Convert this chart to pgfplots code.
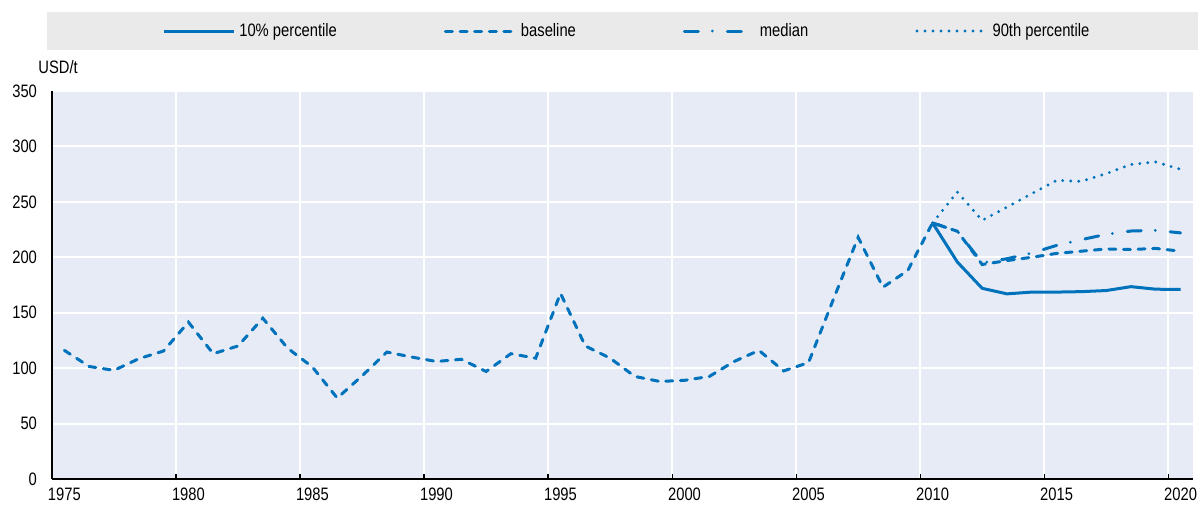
\documentclass[border=0pt]{standalone}
\usepackage{fontspec}
\setmainfont{Liberation Sans}[FakeStretch=0.82]
\usepackage{pgfplots}
\pgfplotsset{compat=1.18}
\definecolor{oblue}{HTML}{0072BC}
\definecolor{plotbg}{HTML}{E6EBF6}
\definecolor{leggray}{HTML}{EAEAEA}

\begin{document}
\begin{tikzpicture}[font=\fontsize{9}{10}\selectfont]
\useasboundingbox (-26pt,-14pt) rectangle (573pt,239.5pt);
\fill[leggray] (-2.5pt,214.5pt) rectangle (573pt,233.5pt);
\begin{axis}[
    at={(0pt,0pt)}, anchor=south west,
    scale only axis,
    width=570.5pt, height=194pt,
    xmin=1975, xmax=2021,
    ymin=0, ymax=350,
    xtick={1975,1980,...,2020},
    ytick={0,50,...,350},
    axis lines=left,
    axis line style={-, black, line width=1pt},
    axis background/.style={fill=plotbg},
    grid=major,
    major grid style={white, line width=1pt},
    tick align=inside,
    major tick length=2.5pt,
    xtick style={black, line width=0.6pt},
    ytick style={draw=none},
    xticklabel style={xshift=6.2pt, yshift=-1pt},
    yticklabel style={xshift=-4pt},
    /pgf/number format/assume math mode=true,
    /pgf/number format/1000 sep={},
    tick label style={font=\fontsize{9}{10}\selectfont},
    legend columns=4,
    legend style={at={(rel axis cs:0.5047,1.1546)}, anchor=center,
        draw=none, fill=none, font=\fontsize{9}{10}\selectfont,
        /tikz/every even column/.append style={column sep=51.5pt}},
    legend image code/.code={\draw[#1] (0pt,0pt) -- (35pt,0pt);},
    every axis plot/.append style={oblue, line width=1.5pt},
]
\addplot[oblue, solid, line join=round] coordinates {
(2010.5,231) (2011.5,195.7) (2012.5,172) (2013.5,167) (2014.5,168.6)
(2015.5,168.6) (2016.5,169) (2017.5,170) (2018.5,173.5) (2019.5,171.2) (2020.5,171)
};
\addlegendentry{10\% percentile}
\addplot[oblue, dash pattern=on 3.5pt off 3.8pt, line cap=round] coordinates {
(1975.5,116) (1976.5,101.5) (1977.5,98) (1978.5,108.5) (1979.5,115.5)
(1980.5,141.5) (1981.5,113) (1982.5,120) (1983.5,145) (1984.5,118)
(1985.5,101) (1986.5,73) (1987.5,93) (1988.5,114.5) (1989.5,110)
(1990.5,106) (1991.5,108) (1992.5,97) (1993.5,113) (1994.5,109)
(1995.5,167.5) (1996.5,120) (1997.5,109) (1998.5,92.5) (1999.5,88)
(2000.5,89) (2001.5,92.5) (2002.5,106) (2003.5,116) (2004.5,97.5)
(2005.5,105) (2006.5,162) (2007.5,218) (2008.5,173) (2009.5,188)
(2010.5,231) (2011.5,223.5) (2012.5,193.5) (2013.5,197) (2014.5,200)
(2015.5,203.5) (2016.5,205.5) (2017.5,207.5) (2018.5,207) (2019.5,208)
(2020.5,205.5)
};
\addlegendentry{baseline}
\addplot[oblue, dash pattern=on 7pt off 7pt on 0pt off 7.5pt, line cap=round] coordinates {
(2010.5,231) (2011.5,223.5) (2012.5,195) (2013.5,198.7) (2014.5,203.8)
(2015.5,210.7) (2016.5,215.9) (2017.5,220.7) (2018.5,223.7) (2019.5,224.3) (2020.5,222)
};
\addlegendentry{median}
\addplot[oblue, line width=1.6pt, dash pattern=on 0pt off 4pt, line cap=round] coordinates {
(2010.5,231) (2011.5,258.9) (2012.5,233.3) (2013.5,245.3) (2014.5,257.4)
(2015.5,269.4) (2016.5,268.5) (2017.5,275.4) (2018.5,283.8) (2019.5,286) (2020.5,279.3)
};
\addlegendentry{90th percentile}
\end{axis}
\node[anchor=west, inner sep=0pt] at (-7pt,206pt) {USD/t};
\end{tikzpicture}
\end{document}
